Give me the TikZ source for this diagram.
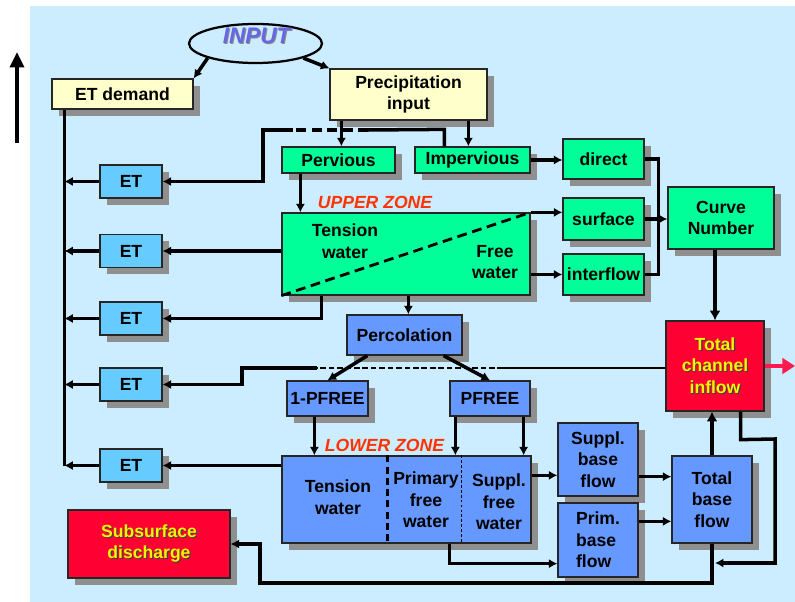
\documentclass[tikz,border=0pt]{standalone}
\usepackage{fontspec}
\setmainfont{Liberation Sans}
\usetikzlibrary{arrows.meta,shapes.geometric,shadows,calc}

\definecolor{skyback}{HTML}{CCECFF}
\definecolor{paleyellow}{HTML}{FFFFCC}
\definecolor{zonegreen}{HTML}{00FF99}
\definecolor{etblue}{HTML}{66CCFF}
\definecolor{lowblue}{HTML}{6699FF}
\definecolor{outred}{HTML}{FF0033}
\definecolor{zonered}{HTML}{FF3300}
\definecolor{inputblue}{HTML}{6666E6}
\definecolor{flowred}{HTML}{FF1A4D}

\newcommand{\px}{0.025cm}
\newcommand{\shadetext}[2]{\rlap{\kern0.8pt\raisebox{-0.8pt}{\color{#1}#2}}#2}

\begin{document}
\begin{tikzpicture}[x=0.025cm, y=-0.025cm]
		\tikzstyle {box} = [draw=black!85, line width=0.9pt, inner sep=0pt, align=center,
			font=\bfseries\fontsize{12.5}{15.3}\selectfont,
			drop shadow={shadow xshift=0.17cm, shadow yshift=-0.17cm, fill=black!44, opacity=1}]
		\tikzstyle {yellow box} = [box, fill=paleyellow]
		\tikzstyle {green box} = [box, fill=zonegreen]
		\tikzstyle {et box} = [box, fill=etblue, minimum width=62*\px, minimum height=33*\px]
		\tikzstyle {blue box} = [box, fill=lowblue]
		\tikzstyle {red box} = [box, fill=outred, text=yellow]
		\tikzstyle {inner text} = [inner sep=0pt, align=center, font=\bfseries\fontsize{12.5}{15.3}\selectfont]
		\tikzstyle {zone title} = [inner sep=0pt, text=zonered, font=\bfseries\itshape\fontsize{12.5}{15}\selectfont]
		\tikzstyle {flow} = [line width=2.5pt]
		\tikzstyle {arr} = [flow, -{Latex[length=6pt, width=6.5pt]}]
		\tikzstyle {thin arr} = [line width=1.7pt, -{Latex[length=6pt, width=6.5pt]}]
		\tikzstyle {big arr} = [line width=3.3pt, -{Latex[length=7pt, width=8pt]}]

		\useasboundingbox (0,0) rectangle (795,602);
		\fill[skyback] (30,6) rectangle (795,602);

		\coordinate (up foot) at (17,143);
		\coordinate (up head) at (17,52);
		\draw[line width=2.3pt, -{Triangle[length=11pt, width=10pt]}] (up foot) -- (up head);

		\node[draw, line width=1.6pt, ellipse, inner sep=0pt, minimum width=133*\px, minimum height=39*\px] (input) at (255.5,43.5) {};
		\node[inner sep=0pt, text=inputblue, font=\bfseries\itshape\fontsize{16}{18}\selectfont] (input text) at (256.5,36.5) {\shadetext{black!45}{INPUT}};

		\node[yellow box, minimum width=141*\px, minimum height=30*\px] (etdemand) at (122.5,94) {ET demand};
		\node[yellow box, minimum width=157*\px, minimum height=51*\px] (precip) at (408.5,94.5) {Precipitation\\input};

		\node[green box, minimum width=113*\px, minimum height=26*\px] (pervious) at (338.5,160) {Pervious};
		\node[green box, minimum width=115*\px, minimum height=26*\px] (impervious) at (472.5,160) {Impervious};
		\node[green box, minimum width=81*\px, minimum height=40*\px] (direct) at (603.5,159) {direct};
		\node[green box, minimum width=81*\px, minimum height=42*\px] (surface) at (603.5,219) {surface};
		\node[green box, minimum width=81*\px, minimum height=41*\px] (interflow) at (603.5,274.5) {interflow};
		\node[green box, minimum width=106*\px, minimum height=62*\px] (curve) at (721,218) {Curve\\Number};
		\node[green box, minimum width=248*\px, minimum height=82*\px] (upper) at (406,254) {};

		\node[et box] (et1) at (131,181.5) {ET};
		\node[et box] (et2) at (131,251) {ET};
		\node[et box] (et3) at (131,318.5) {ET};
		\node[et box] (et4) at (131,384.5) {ET};
		\node[et box] (et5) at (131,465.5) {ET};

		\node[blue box, minimum width=115*\px, minimum height=40*\px] (perc) at (404.5,335) {Percolation};
		\node[blue box, minimum width=81*\px, minimum height=35*\px] (onepfree) at (327.5,398.5) {1-PFREE};
		\node[blue box, minimum width=80*\px, minimum height=35*\px] (pfree) at (490,398.5) {PFREE};
		\node[blue box, minimum width=249*\px, minimum height=87*\px] (lower) at (406.5,499.5) {};
		\node[blue box, minimum width=80*\px, minimum height=73*\px] (sbase) at (598,459.5) {Suppl.\\base\\flow};
		\node[blue box, minimum width=80*\px, minimum height=74*\px, align=left] (pbase) at (598,540) {Prim.\\base\\flow};
		\node[blue box, minimum width=80*\px, minimum height=87*\px] (tbase) at (712,499.5) {Total\\base\\flow};

		\node[red box, minimum width=98*\px, minimum height=90*\px] (tci) at (715,366)
			{\shadetext{black!75}{Total}\\\shadetext{black!75}{channel}\\\shadetext{black!75}{inflow}};
		\node[red box, minimum width=162*\px, minimum height=68*\px] (subsurf) at (149,544)
			{\shadetext{black!75}{Subsurface}\\\shadetext{black!75}{discharge}};

		\draw[line width=2pt, dash pattern=on 7pt off 4pt] (upper.south west) -- (upper.north east);
		\draw[line width=1.8pt, dash pattern=on 5pt off 3pt] ($(lower.north west)+(106,0)$) -- ($(lower.south west)+(106,0)$);
		\draw[line width=0.9pt, dash pattern=on 2pt off 1.5pt] ($(lower.north west)+(180,0)$) -- ($(lower.south west)+(180,0)$);

		\node[zone title] (upper title) at (375,202) {UPPER ZONE};
		\node[zone title] (lower title) at (384.5,445) {LOWER ZONE};
		\node[inner text] (uz tension) at (345,241) {Tension\\water};
		\node[inner text] (uz free) at (495,262) {Free\\water};
		\node[inner text] (lz tension) at (338,497) {Tension\\water};
		\node[inner text] (lz primary) at (426,500) {Primary\\free\\water};
		\node[inner text] (lz suppl) at (499,502) {Suppl.\\free\\water};

		\draw[arr] (input.south west) -- (etdemand.north east);
		\draw[arr] (input.south east) -- (precip.north west);

		\coordinate (precip left) at ($(precip.south west)+(12,0)$);
		\coordinate (precip right) at ($(precip.south west)+(139,0)$);
		\draw[arr] (precip left) -- (precip left |- pervious.north);
		\draw[arr] (precip right) -- (precip right |- impervious.north);

		\coordinate (imp up) at ($(impervious.north west)+(30,-17)$);
		\coordinate (dash right) at (368,130);
		\coordinate (dash left) at (293,130);
		\coordinate (et1 bend) at (263,130);
		\draw[flow] ($(impervious.north west)+(30,0)$) -- (imp up) -- (dash right);
		\draw[flow, dash pattern=on 7pt off 4pt] (dash right) -- (dash left);
		\draw[arr] (dash left) -- (et1 bend) |- (et1.east);

		\coordinate (perv down) at ($(pervious.south west)+(19,0)$);
		\draw[arr] (perv down) -- (perv down |- upper.north);
		\draw[arr] (impervious.east) -- (impervious.east -| direct.west);
		\draw[arr] (upper.north east) -- (upper.north east -| surface.west);
		\draw[arr] (interflow.west -| upper.east) -- (interflow.west);

		\coordinate (side join) at ($(interflow.east)+(14,0)$);
		\draw[flow] (direct.east) -| (side join) -- (interflow.east);
		\draw[arr] (surface.east) -- (surface.east -| curve.west);
		\draw[big arr] (tci.north |- curve.south) -- (tci.north);

		\draw[arr] (et2.east -| upper.west) -- (et2.east);
		\coordinate (uz drain) at ($(upper.south west)+(40,0)$);
		\draw[arr] (uz drain) |- (et3.east);
		\coordinate (uz perc) at ($(upper.south west)+(127,0)$);
		\draw[arr] (uz perc) -- (uz perc |- perc.north);

		\draw[arr] ($(perc.south west)+(21,0)$) -- (onepfree.north);
		\draw[arr] ($(perc.south east)+(-19,0)$) -- (pfree.north);

		\coordinate (thin end) at (503,368);
		\coordinate (dash end) at (317,368);
		\coordinate (et4 bend) at (242,368);
		\draw[line width=1.4pt] (tci.west |- thin end) -- (thin end);
		\draw[line width=0.8pt, dash pattern=on 4pt off 2pt] (thin end) -- (dash end);
		\draw[arr] (dash end) -- (et4 bend) |- (et4.east);

		\coordinate (one down) at ($(onepfree.south west)+(28,0)$);
		\coordinate (pf left) at ($(pfree.south west)+(6,0)$);
		\coordinate (pf right) at ($(pfree.south east)+(-7,0)$);
		\draw[thin arr] (one down) -- (one down |- lower.north);
		\draw[thin arr] (pf left) -- (pf left |- lower.north);
		\draw[thin arr] (pf right) -- (pf right |- lower.north);
		\draw[thin arr] (et5.east -| lower.west) -- (et5.east);

		\coordinate (trunk top) at ($(etdemand.south west)+(13,0)$);
		\draw[flow] (trunk top) -- (trunk top |- et5.west);
		\draw[arr] (et1.west) -- (et1.west -| trunk top);
		\draw[arr] (et2.west) -- (et2.west -| trunk top);
		\draw[arr] (et3.west) -- (et3.west -| trunk top);
		\draw[arr] (et4.west) -- (et4.west -| trunk top);
		\draw[arr] (et5.west) -- (et5.west -| trunk top);

		\coordinate (suppl out) at ($(lower.north east)+(0,20)$);
		\coordinate (sbase out) at ($(sbase.south east)+(0,-20)$);
		\coordinate (pbase out) at ($(pbase.north east)+(0,19)$);
		\draw[arr] (suppl out) -- (suppl out -| sbase.west);
		\draw[arr] (sbase out) -- (sbase out -| tbase.west);
		\draw[arr] (pbase out) -- (pbase out -| tbase.west);

		\coordinate (prim drop) at ($(lower.south west)+(168,0)$);
		\draw[arr] (prim drop) |- ($(pbase.south west)+(0,-14)$);

		\draw[big arr] (tbase.north) -- (tbase.north |- tci.south);

		\coordinate (loop a) at ($(tci.south east)+(-24,28)$);
		\coordinate (loop b) at (775,439);
		\coordinate (loop c) at (775,563);
		\coordinate (loop end) at (715,563);
		\draw[arr] ($(tci.south east)+(-24,0)$) -- (loop a) -- (loop b) -- (loop c) -- (loop end);

		\coordinate (sub low) at (260,583);
		\draw[arr] (tbase.south) |- (sub low) |- (subsurf.east);

		\coordinate (river) at (795,366);
		\draw[line width=3pt, flowred, -{Triangle[length=9pt, width=11pt]}] (tci.east) -- (river);
	\end{tikzpicture}
\end{document}
